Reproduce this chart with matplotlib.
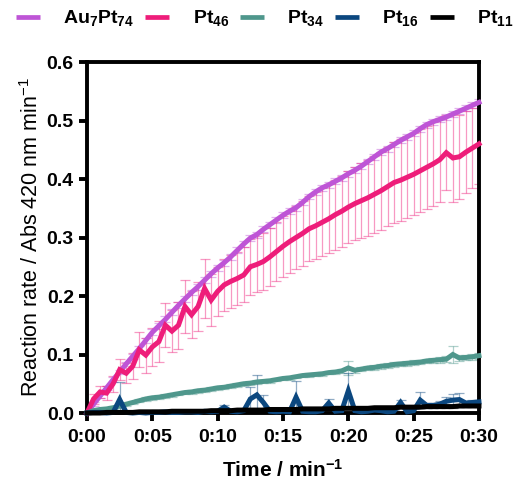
import matplotlib
matplotlib.use("Agg")
import matplotlib.pyplot as plt
from matplotlib.ticker import FuncFormatter, MultipleLocator

plt.rcParams["font.family"] = ["Liberation Sans", "DejaVu Sans"]
plt.rcParams["mathtext.default"] = "regular"

# sampling times (min)
time_min = [
    0.0, 0.5, 1.0, 1.5, 2.0, 2.5, 3.0, 3.5, 4.0, 4.5,
    5.0, 5.5, 6.0, 6.5, 7.0, 7.5, 8.0, 8.5, 9.0, 9.5,
    10.0, 10.5, 11.0, 11.5, 12.0, 12.5, 13.0, 13.5, 14.0, 14.5,
    15.0, 15.5, 16.0, 16.5, 17.0, 17.5, 18.0, 18.5, 19.0, 19.5,
    20.0, 20.5, 21.0, 21.5, 22.0, 22.5, 23.0, 23.5, 24.0, 24.5,
    25.0, 25.5, 26.0, 26.5, 27.0, 27.5, 28.0, 28.5, 29.0, 29.5,
    30.0,
]

au7pt74 = [
    0.000, 0.015, 0.029, 0.043, 0.057, 0.070, 0.084, 0.097, 0.110, 0.124,
    0.138, 0.149, 0.160, 0.172, 0.184, 0.195, 0.206, 0.216, 0.227, 0.238,
    0.248, 0.257, 0.267, 0.278, 0.289, 0.299, 0.305, 0.314, 0.322, 0.330,
    0.338, 0.345, 0.351, 0.360, 0.370, 0.378, 0.385, 0.390, 0.396, 0.402,
    0.409, 0.415, 0.422, 0.430, 0.438, 0.446, 0.452, 0.459, 0.466, 0.472,
    0.478, 0.486, 0.493, 0.498, 0.502, 0.506, 0.511, 0.516, 0.521, 0.526,
    0.531,
]
au7pt74_err = [
    0.000, 0.003, 0.003, 0.004, 0.004, 0.004, 0.004, 0.004, 0.005, 0.005,
    0.005, 0.005, 0.005, 0.005, 0.005, 0.005, 0.005, 0.005, 0.005, 0.005,
    0.005, 0.005, 0.005, 0.005, 0.005, 0.005, 0.005, 0.005, 0.005, 0.005,
    0.005, 0.005, 0.005, 0.005, 0.005, 0.005, 0.005, 0.005, 0.005, 0.005,
    0.005, 0.005, 0.005, 0.005, 0.005, 0.005, 0.005, 0.005, 0.005, 0.005,
    0.005, 0.005, 0.005, 0.005, 0.005, 0.005, 0.005, 0.005, 0.005, 0.005,
    0.005,
]

pt46 = [
    0.000, 0.024, 0.036, 0.034, 0.050, 0.074, 0.068, 0.080, 0.108, 0.099,
    0.113, 0.122, 0.150, 0.140, 0.150, 0.182, 0.168, 0.182, 0.213, 0.193,
    0.208, 0.219, 0.225, 0.230, 0.236, 0.250, 0.254, 0.259, 0.267, 0.276,
    0.285, 0.293, 0.300, 0.307, 0.315, 0.320, 0.326, 0.332, 0.339, 0.345,
    0.352, 0.358, 0.363, 0.368, 0.374, 0.380, 0.387, 0.394, 0.398, 0.403,
    0.408, 0.414, 0.420, 0.426, 0.433, 0.445, 0.436, 0.438, 0.446, 0.453,
    0.460,
]
pt46_err = [
    0.000, 0.008, 0.010, 0.012, 0.014, 0.018, 0.017, 0.022, 0.030, 0.030,
    0.033, 0.035, 0.038, 0.036, 0.040, 0.045, 0.040, 0.042, 0.050, 0.045,
    0.042, 0.044, 0.045, 0.046, 0.047, 0.048, 0.048, 0.049, 0.050, 0.051,
    0.052, 0.053, 0.054, 0.055, 0.056, 0.057, 0.058, 0.059, 0.060, 0.061,
    0.062, 0.063, 0.064, 0.065, 0.066, 0.067, 0.068, 0.069, 0.070, 0.070,
    0.070, 0.071, 0.071, 0.072, 0.072, 0.064, 0.075, 0.072, 0.070, 0.069,
    0.069,
]

pt34 = [
    0.000, 0.004, 0.006, 0.007, 0.009, 0.012, 0.015, 0.018, 0.021, 0.024,
    0.026, 0.027, 0.029, 0.031, 0.033, 0.035, 0.036, 0.038, 0.039, 0.041,
    0.043, 0.044, 0.046, 0.048, 0.050, 0.051, 0.053, 0.054, 0.055, 0.057,
    0.059, 0.060, 0.062, 0.064, 0.065, 0.066, 0.067, 0.069, 0.070, 0.072,
    0.077, 0.073, 0.075, 0.077, 0.078, 0.080, 0.081, 0.083, 0.084, 0.085,
    0.086, 0.087, 0.089, 0.090, 0.091, 0.092, 0.100, 0.094, 0.095, 0.096,
    0.098,
]
pt34_err = [
    0.000, 0.002, 0.002, 0.002, 0.003, 0.003, 0.003, 0.003, 0.003, 0.003,
    0.003, 0.003, 0.003, 0.003, 0.003, 0.003, 0.003, 0.003, 0.003, 0.003,
    0.003, 0.003, 0.003, 0.003, 0.003, 0.003, 0.003, 0.003, 0.003, 0.003,
    0.003, 0.003, 0.003, 0.003, 0.003, 0.003, 0.003, 0.003, 0.003, 0.004,
    0.012, 0.004, 0.004, 0.004, 0.004, 0.004, 0.004, 0.004, 0.004, 0.004,
    0.004, 0.004, 0.004, 0.004, 0.005, 0.005, 0.015, 0.005, 0.005, 0.005,
    0.005,
]

pt16 = [
    0.000, 0.001, 0.001, 0.000, 0.001, 0.023, 0.001, 0.000, 0.001, 0.000,
    0.001, 0.001, 0.002, 0.001, 0.001, 0.002, 0.002, 0.001, 0.003, 0.002,
    0.003, 0.010, 0.003, 0.002, 0.004, 0.024, 0.031, 0.018, 0.003, 0.002,
    0.003, 0.002, 0.027, 0.003, 0.002, 0.002, 0.004, 0.017, 0.003, 0.004,
    0.038, 0.004, 0.002, 0.003, 0.005, 0.004, 0.002, 0.003, 0.018, 0.002,
    0.004, 0.022, 0.013, 0.013, 0.015, 0.020, 0.022, 0.023, 0.017, 0.018,
    0.019,
]
pt16_err = [
    0.000, 0.001, 0.001, 0.001, 0.001, 0.030, 0.001, 0.001, 0.001, 0.001,
    0.001, 0.001, 0.002, 0.001, 0.001, 0.002, 0.002, 0.001, 0.002, 0.002,
    0.002, 0.004, 0.002, 0.002, 0.002, 0.020, 0.034, 0.012, 0.002, 0.002,
    0.002, 0.002, 0.027, 0.002, 0.002, 0.002, 0.002, 0.007, 0.002, 0.002,
    0.030, 0.002, 0.002, 0.002, 0.002, 0.002, 0.002, 0.002, 0.004, 0.002,
    0.002, 0.014, 0.004, 0.004, 0.005, 0.008, 0.010, 0.012, 0.004, 0.004,
    0.004,
]

pt11 = [
    0.000, 0.000, 0.000, 0.001, 0.001, 0.001, 0.001, 0.001, 0.002, 0.002,
    0.002, 0.002, 0.002, 0.003, 0.003, 0.003, 0.003, 0.003, 0.003, 0.004,
    0.004, 0.004, 0.004, 0.005, 0.005, 0.005, 0.005, 0.005, 0.006, 0.006,
    0.006, 0.006, 0.006, 0.007, 0.007, 0.007, 0.007, 0.007, 0.008, 0.008,
    0.008, 0.008, 0.008, 0.008, 0.009, 0.009, 0.009, 0.009, 0.010, 0.010,
    0.010, 0.010, 0.011, 0.011, 0.011, 0.011, 0.011, 0.012, 0.012, 0.012,
    0.012,
]
pt11_err = [
    0.000, 0.001, 0.001, 0.001, 0.001, 0.001, 0.001, 0.001, 0.001, 0.001,
    0.001, 0.001, 0.001, 0.001, 0.001, 0.001, 0.001, 0.001, 0.001, 0.001,
    0.002, 0.002, 0.002, 0.002, 0.002, 0.002, 0.002, 0.002, 0.002, 0.002,
    0.002, 0.002, 0.002, 0.002, 0.002, 0.002, 0.002, 0.002, 0.002, 0.002,
    0.002, 0.002, 0.002, 0.002, 0.002, 0.002, 0.002, 0.002, 0.002, 0.002,
    0.002, 0.002, 0.002, 0.002, 0.002, 0.002, 0.002, 0.002, 0.002, 0.002,
    0.002,
]

labels = [r"Au$_{7}$Pt$_{74}$", r"Pt$_{46}$", r"Pt$_{34}$", r"Pt$_{16}$", r"Pt$_{11}$"]
series = [au7pt74, pt46, pt34, pt16, pt11]
errors = [au7pt74_err, pt46_err, pt34_err, pt16_err, pt11_err]
colors = ["#BE55D6", "#EE1D7A", "#4F978C", "#0B477F", "#000000"]

fig = plt.figure(figsize=(5.2, 4.86), dpi=100)
ax = fig.add_axes([0.1673, 0.1502, 0.7538, 0.7222])

for i, (vals, err, col) in enumerate(zip(series, errors, colors)):
    ax.errorbar(time_min, vals, yerr=err, fmt="none", ecolor=col, alpha=0.45,
                elinewidth=0.9, capsize=3.5, capthick=0.9, zorder=2 + i * 0.01)

handles = []
for i, (vals, lab, col) in enumerate(zip(series, labels, colors)):
    (ln,) = ax.plot(time_min, vals, color=col, lw=3.6, label=lab,
                    solid_joinstyle="miter", zorder=3 + i, clip_on=False)
    handles.append(ln)

ax.set_xlim(0, 30)
ax.set_ylim(0, 0.6)
ax.xaxis.set_major_locator(MultipleLocator(5))
ax.yaxis.set_major_locator(MultipleLocator(0.1))
ax.xaxis.set_major_formatter(FuncFormatter(lambda v, p: f"0:{int(round(v)):02d}"))
ax.yaxis.set_major_formatter(FuncFormatter(lambda v, p: f"{v:.1f}"))

for sp in ax.spines.values():
    sp.set_linewidth(2.8)
ax.tick_params(direction="out", length=5.5, width=2.8, labelsize=14, pad=4)
ax.tick_params(axis="x", pad=6)
for lab in ax.get_xticklabels() + ax.get_yticklabels():
    lab.set_fontweight("bold")

ax.set_xlabel(r"Time / min$^{-1}$", fontsize=15, fontweight="bold", labelpad=9)
ax.set_ylabel(r"Reaction rate / Abs 420 nm min$^{-1}$", fontsize=15.5, labelpad=3)

leg = fig.legend(handles=handles, loc="center left", bbox_to_anchor=(0.03, 0.962),
                 ncol=5, frameon=False, handlelength=1.25,
                 handletextpad=1.2, columnspacing=0.55, borderpad=0, borderaxespad=0,
                 prop={"weight": "bold", "size": 14})
for ln in leg.get_lines():
    ln.set_linewidth(3.4)
    ln.set_solid_capstyle("butt")

fig.savefig("out.png", dpi=100)
